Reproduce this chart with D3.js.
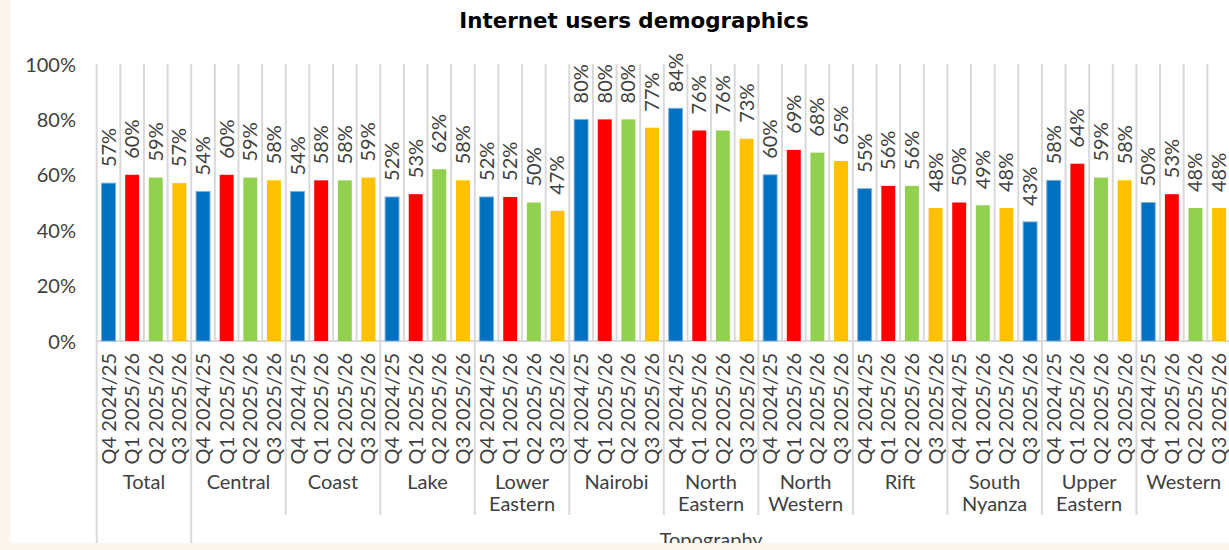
<!DOCTYPE html>
<html>
<head>
<meta charset="utf-8">
<script src="https://cdn.jsdelivr.net/npm/d3@7"></script>
<style>
  html, body { margin: 0; padding: 0; background: #fdf6ee; }
  svg { display: block; }
</style>
</head>
<body>
<svg id="chart" width="1229" height="550"></svg>
<script>
// Quarter labels, region names and the share of internet users per quarter (%)
const quarters = ["Q4 2024/25", "Q1 2025/26", "Q2 2025/26", "Q3 2025/26"];
const regions = ["Total", "Central", "Coast", "Lake", "Lower Eastern", "Nairobi",
  "North Eastern", "North Western", "Rift", "South Nyanza", "Upper Eastern", "Western"];
const q4_2024 = [57, 54, 54, 52, 52, 80, 84, 60, 55, 50, 58, 50];
const q1_2025 = [60, 60, 58, 53, 52, 80, 76, 69, 56, 49, 64, 53];
const q2_2025 = [59, 59, 58, 62, 50, 80, 76, 68, 56, 48, 59, 48];
const q3_2025 = [57, 58, 59, 58, 47, 77, 73, 65, 48, 43, 58, 48];
const yTicks = [0, 20, 40, 60, 80, 100];
const groupLabel = "Topography";

const seriesValues = [q4_2024, q1_2025, q2_2025, q3_2025];
const palette = ["#0070c0", "#ff0000", "#92d050", "#ffc000"];
// South Nyanza's bars use the palette starting one step later
const fillOffset = { "South Nyanza": 1 };

const rows = [];
regions.forEach((r, i) => {
  quarters.forEach((q, j) => {
    rows.push({ region: r, quarter: q, ri: i, qi: j, value: seriesValues[j][i],
      colour: palette[(j + (fillOffset[r] || 0)) % 4] });
  });
});

const svg = d3.select("#chart");
const font = "Lato, 'Noto Sans', sans-serif";
const fontSize = 20;
const ink = "#404040";
const gridColour = "#d9d9d9";

// white chart area over the cream page
svg.append("defs").append("clipPath").attr("id", "area")
  .append("rect").attr("x", 11).attr("y", 0).attr("width", 1218).attr("height", 543);
svg.append("rect").attr("x", 11).attr("y", 0).attr("width", 1218).attr("height", 543)
  .attr("fill", "#ffffff");

const g = svg.append("g").attr("clip-path", "url(#area)");

const left = 96.7, slot = 23.63;
const x = d3.scaleBand()
  .domain(d3.range(rows.length))
  .range([left, left + slot * rows.length])
  .paddingInner(0.41).paddingOuter(0.205);
const step = x.step();
const y = d3.scaleLinear().domain([0, 100]).range([341, 64]);

// vertical separators between bars
const edges = d3.range(rows.length + 1).map(i => left + i * step);
g.append("g").selectAll("line").data(edges).join("line")
  .attr("x1", d => d).attr("x2", d => d)
  .attr("y1", y(100)).attr("y2", y(0))
  .attr("stroke", gridColour).attr("stroke-width", 2);

// category axis baseline
g.append("line")
  .attr("x1", left).attr("x2", left + step * rows.length)
  .attr("y1", y(0)).attr("y2", y(0))
  .attr("stroke", gridColour).attr("stroke-width", 2);

// y axis labels
const yAxis = d3.axisLeft(y).tickValues(yTicks).tickFormat(d => d + "%").tickSize(0).tickPadding(0);
const ya = g.append("g").attr("transform", "translate(76,0)").call(yAxis);
ya.select(".domain").remove();
ya.selectAll("text").attr("font-family", font).attr("font-size", fontSize).attr("fill", ink)
  .attr("dy", "0.35em");

// bars
g.append("g").selectAll("rect").data(rows).join("rect")
  .attr("x", (d, i) => x(i))
  .attr("width", x.bandwidth())
  .attr("y", d => y(d.value))
  .attr("height", d => y(0) - y(d.value))
  .attr("fill", d => d.colour)
  .attr("stroke", d => d.colour === palette[0] ? "#7fb0de" : "none")
  .attr("stroke-width", 1);

// value labels above the bars
g.append("g").selectAll("text").data(rows).join("text")
  .attr("transform", (d, i) => `translate(${x(i) + x.bandwidth() / 2},${y(d.value) - 16}) rotate(-90)`)
  .attr("dy", "0.35em")
  .attr("text-anchor", "start")
  .attr("font-family", font).attr("font-size", fontSize).attr("fill", ink)
  .text(d => d.value + "%");

// quarter labels
g.append("g").selectAll("text").data(rows).join("text")
  .attr("transform", (d, i) => `translate(${x(i) + x.bandwidth() / 2},353) rotate(-90)`)
  .attr("dy", "0.35em")
  .attr("text-anchor", "end")
  .attr("font-family", font).attr("font-size", fontSize).attr("fill", ink)
  .text(d => d.quarter);

// region separators and names
const groupW = step * quarters.length;
const regionEdges = d3.range(regions.length + 1).map(i => left + i * groupW);
g.append("g").selectAll("line").data(regionEdges).join("line")
  .attr("x1", d => d).attr("x2", d => d)
  .attr("y1", y(0))
  .attr("y2", (d, i) => (i <= 1 || i === regions.length) ? 550 : 515)
  .attr("stroke", gridColour).attr("stroke-width", 2);

const rl = g.append("g").selectAll("text").data(regions).join("text")
  .attr("x", (d, i) => left + i * groupW + groupW / 2)
  .attr("y", 489)
  .attr("text-anchor", "middle")
  .attr("font-family", font).attr("font-size", fontSize).attr("fill", ink);
rl.each(function (d) {
  const parts = d.split(" ");
  const t = d3.select(this);
  parts.forEach((p, k) => {
    t.append("tspan").attr("x", t.attr("x")).attr("dy", k === 0 ? 0 : 21.5).text(p);
  });
});

// outer grouping label
g.append("text")
  .attr("x", (left + groupW + left + groupW * regions.length) / 2)
  .attr("y", 547)
  .attr("text-anchor", "middle")
  .attr("font-family", font).attr("font-size", fontSize).attr("fill", ink)
  .text(groupLabel);

// title
svg.append("text")
  .attr("x", 634).attr("y", 28)
  .attr("text-anchor", "middle")
  .attr("font-family", "'DejaVu Sans', sans-serif").attr("font-weight", "bold")
  .attr("font-size", 21.4).attr("fill", "#000000")
  .text("Internet users demographics");
</script>
</body>
</html>
